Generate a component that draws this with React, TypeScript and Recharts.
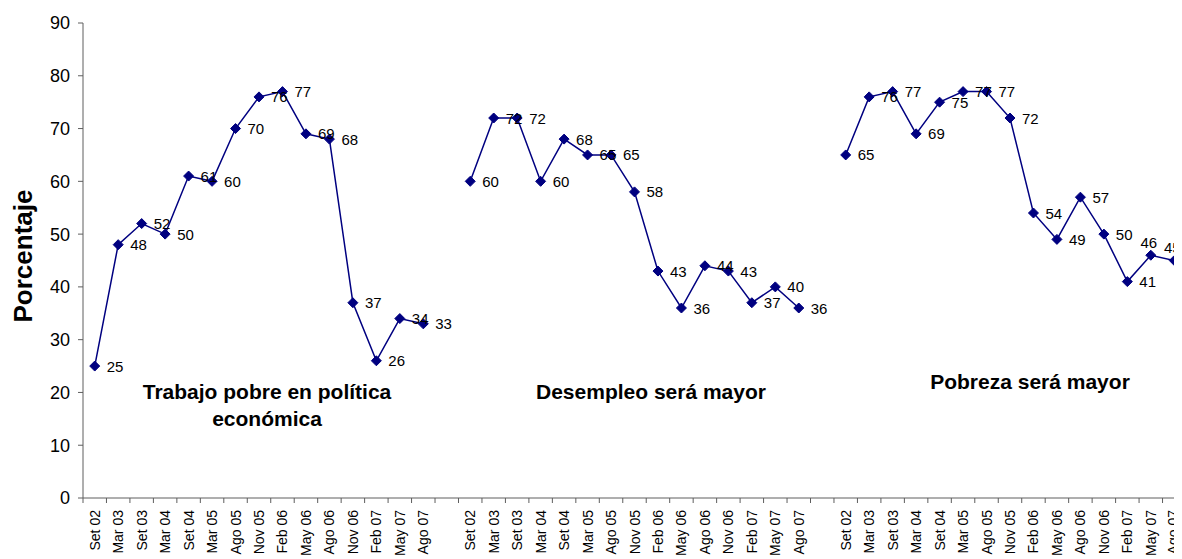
import React from "react";
import { LineChart, Line, XAxis, YAxis } from "recharts";

// fechas de cada encuesta (se repiten en los tres bloques)
const fechas = [
  "Set 02", "Mar 03", "Set 03", "Mar 04", "Set 04", "Mar 05", "Ago 05", "Nov 05",
  "Feb 06", "May 06", "Ago 06", "Nov 06", "Feb 07", "May 07", "Ago 07",
];

const trabajoPobre = [25, 48, 52, 50, 61, 60, 70, 76, 77, 69, 68, 37, 26, 34, 33];
const desempleoMayor = [60, 72, 72, 60, 68, 65, 65, 58, 43, 36, 44, 43, 37, 40, 36];
const pobrezaMayor = [65, 76, 77, 69, 75, 77, 77, 72, 54, 49, 57, 50, 41, 46, 45];

const yTicks = [0, 10, 20, 30, 40, 50, 60, 70, 80, 90];

const seriesKeys = ["trabajo", "desempleo", "pobreza"];
const seriesValues = [trabajoPobre, desempleoMayor, pobrezaMayor];

// filas: 15 fechas por bloque con una categoria vacia entre bloques
const filas: any[] = [];
seriesValues.forEach((values, g) => {
  values.forEach((v, i) => {
    filas.push({ pos: filas.length + 0.5, fecha: fechas[i], [seriesKeys[g]]: v });
  });
  if (g < seriesValues.length - 1) {
    filas.push({ pos: filas.length + 0.5, fecha: "" });
  }
});

const xTicks = Array.from({ length: filas.length + 1 }, (_, i) => i);

const WIDTH = 1190;
const HEIGHT = 559;
const MARGIN = { top: 23, right: 4, bottom: 0, left: 0 };
const Y_AXIS_W = 83;
const X_AXIS_H = 61;
const BANDA = (WIDTH - MARGIN.left - MARGIN.right - Y_AXIS_W) / filas.length;

const AZUL = "#000080";
const EJE = "#5e5e5e";
const FUENTE = '"Liberation Sans", Arial, sans-serif';

const FechaTick = (props: any) => {
  const { x, y, payload } = props;
  const fila = filas[payload.value];
  if (!fila || !fila.fecha) return <g />;
  const cx = Math.min(x + BANDA / 2, 1173);
  const ty = y + 5;
  return (
    <text
      x={cx}
      y={ty}
      transform={`rotate(-90 ${cx} ${ty})`}
      textAnchor="end"
      dominantBaseline="central"
      fontSize={14}
      fill="#000"
    >
      {fila.fecha}
    </text>
  );
};

const Rombo = (props: any) => {
  const { cx, cy, key } = props;
  if (cx == null || cy == null || props.value == null) return <g key={key} />;
  const r = 5;
  return (
    <polygon
      key={key}
      points={`${cx},${cy - r} ${cx + r},${cy} ${cx},${cy + r} ${cx - r},${cy}`}
      fill={AZUL}
      stroke={AZUL}
    />
  );
};

// inicio del bloque de pobreza en las filas
const INICIO_POBREZA = (fechas.length + 1) * 2;

const etiqueta = (serie: string) => (props: any) => {
  const { x, y, value, index } = props;
  if (value == null || x == null || y == null) return <g key={`l-${serie}-${index}`} />;
  const arriba = serie === "pobreza" && index - INICIO_POBREZA >= 13;
  return (
    <text
      key={`l-${serie}-${index}`}
      x={arriba ? x - 2 : x + 12}
      y={arriba ? y - 13 : y}
      textAnchor={arriba ? "middle" : "start"}
      dominantBaseline="central"
      fontSize={15}
      fill="#000"
    >
      {value}
    </text>
  );
};

const tituloStyle: React.CSSProperties = {
  position: "absolute",
  transform: "translate(-50%, -50%)",
  fontWeight: "bold",
  fontSize: 21,
  lineHeight: "27px",
  textAlign: "center",
  whiteSpace: "nowrap",
  color: "#000",
};

export default function App() {
  return (
    <div
      style={{
        position: "relative",
        width: 1182,
        height: 559,
        overflow: "hidden",
        marginTop: -8,
        marginLeft: -8,
        background: "#fff",
        fontFamily: FUENTE,
      }}
    >
      <LineChart
        width={WIDTH}
        height={HEIGHT}
        data={filas}
        margin={MARGIN}
        style={{ fontFamily: FUENTE }}
      >
        <XAxis
          dataKey="pos"
          type="number"
          domain={[0, filas.length]}
          ticks={xTicks}
          interval={0}
          height={X_AXIS_H}
          tickSize={5}
          tickLine={{ stroke: EJE }}
          axisLine={{ stroke: EJE }}
          tick={<FechaTick />}
        />
        <YAxis
          type="number"
          domain={[0, 90]}
          ticks={yTicks}
          interval={0}
          width={Y_AXIS_W}
          tickSize={5}
          tickMargin={8}
          tickLine={{ stroke: EJE }}
          axisLine={{ stroke: EJE }}
          tick={{ fontSize: 18, fill: "#000" }}
        />
        {seriesKeys.map((k) => (
          <Line
            key={k}
            dataKey={k}
            stroke={AZUL}
            strokeWidth={1.5}
            dot={Rombo}
            activeDot={false}
            label={etiqueta(k)}
            connectNulls={false}
            isAnimationActive={false}
          />
        ))}
      </LineChart>

      <div
        style={{
          position: "absolute",
          left: 23,
          top: 256,
          transform: "translate(-50%, -50%) rotate(-90deg)",
          fontWeight: "bold",
          fontSize: 26,
          whiteSpace: "nowrap",
        }}
      >
        Porcentaje
      </div>
      <div style={{ ...tituloStyle, left: 267, top: 405 }}>
        Trabajo pobre en política
        <br />
        económica
      </div>
      <div style={{ ...tituloStyle, left: 651, top: 391 }}>Desempleo será mayor</div>
      <div style={{ ...tituloStyle, left: 1030, top: 381 }}>Pobreza será mayor</div>
    </div>
  );
}
